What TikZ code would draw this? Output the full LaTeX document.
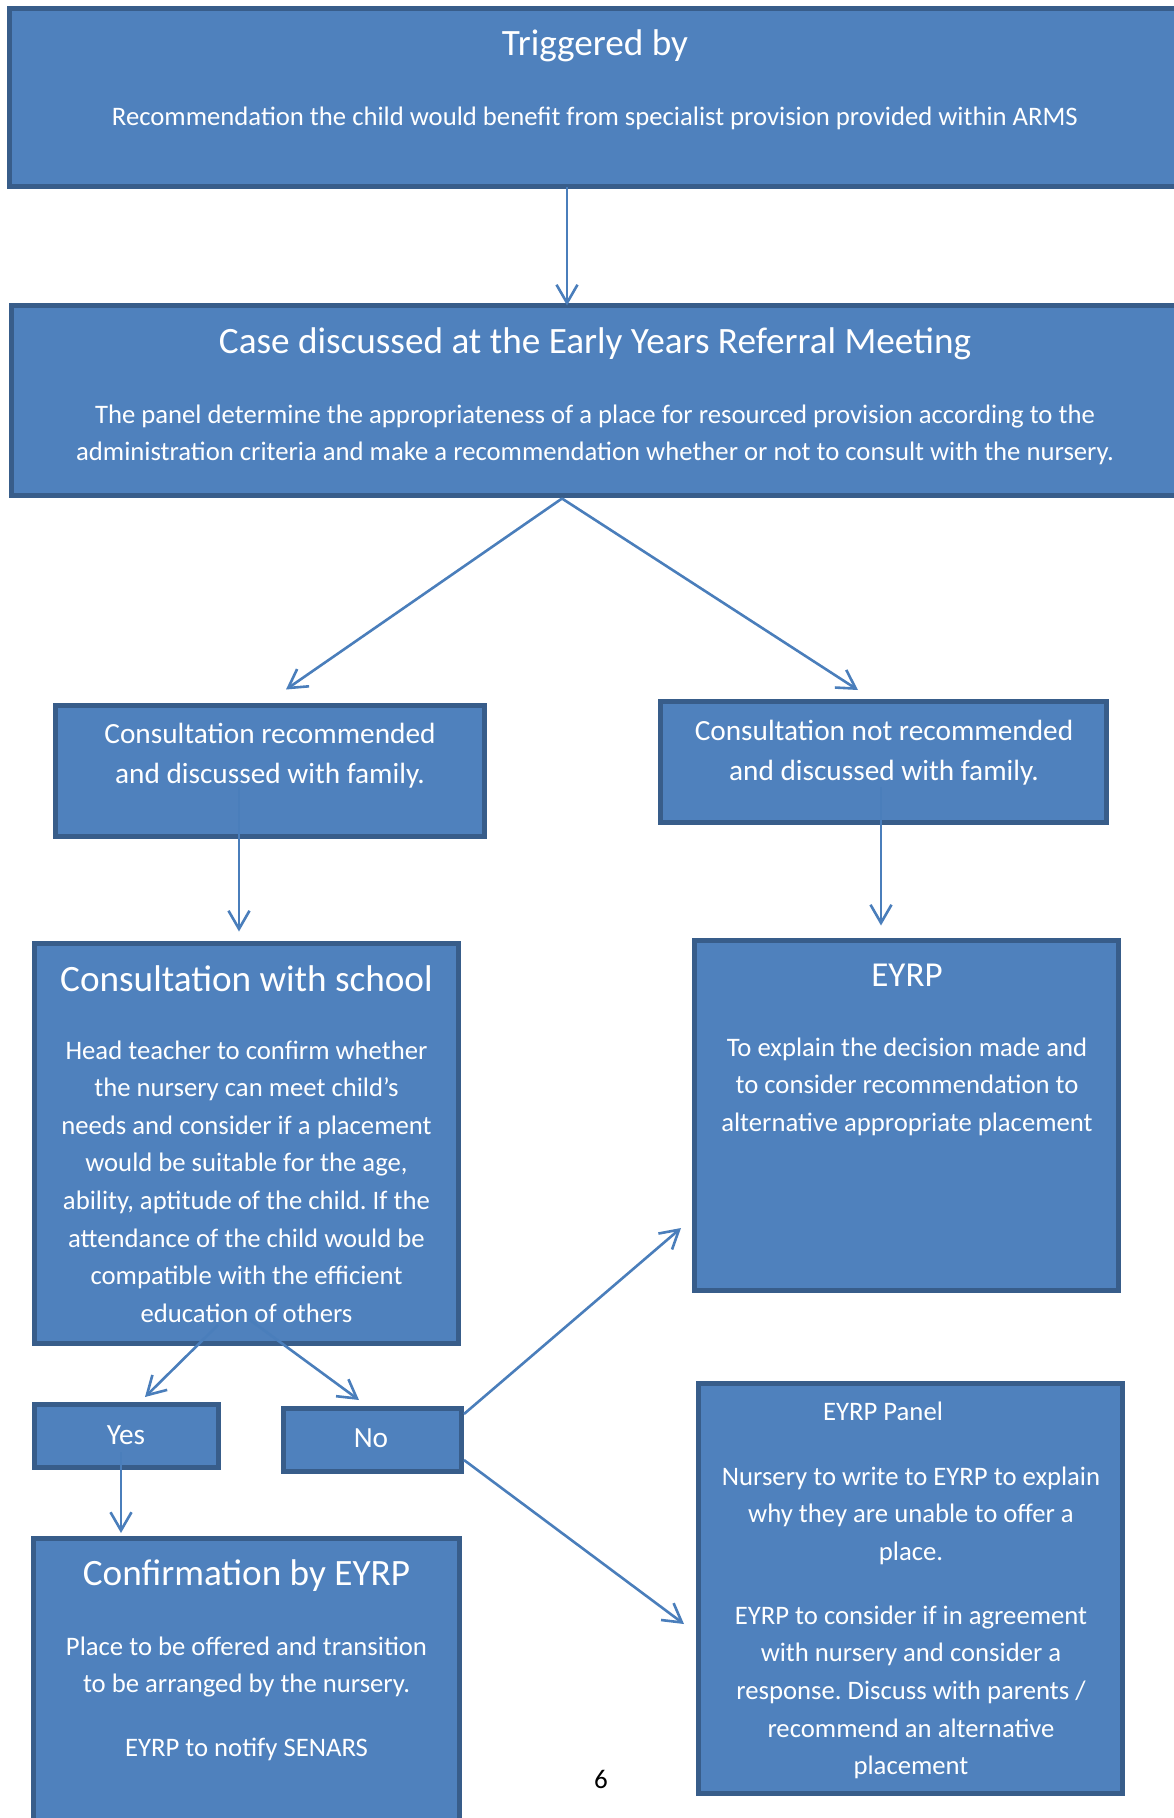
\documentclass[tikz,border=0pt]{standalone}
\usepackage{fontspec}
\setmainfont{Carlito}
\usetikzlibrary{arrows.meta}
\definecolor{boxfill}{RGB}{79,129,189}
\definecolor{boxline}{RGB}{56,93,138}
\definecolor{arrowblue}{RGB}{74,126,187}
\frenchspacing

\begin{document}
\begin{tikzpicture}[x=1pt, y=-1pt,
    box/.style={draw=boxline, fill=boxfill, line width=5pt, inner sep=0pt, outer sep=0pt, anchor=north west},
    headtext/.style={text=white, inner sep=0pt, anchor=base, font=\fontsize{37.2}{44}\selectfont},
    bodytext/.style={text=white, inner sep=0pt, anchor=base, align=center, font=\fontsize{26.7}{37.6}\selectfont},
    choicetext/.style={bodytext, font=\fontsize{29.3}{40.5}\selectfont},
    flow/.style={draw=arrowblue, line width=2.6pt, -{Straight Barb[angle=60:21pt]}}
]
\clip (0,0) rectangle (1174,1818);

% Trigger
\node[box, minimum width=1171pt, minimum height=178pt] (trig) at (9.5,8.5) {};
\node[headtext] (trigH) at (595,55) {Triggered by};
\node[bodytext] (trigB) at (595,125) {Recommendation the child would benefit from specialist provision provided within ARMS};

% Referral meeting (multi-line texts sit on their last baseline)
\node[box, minimum width=1169pt, minimum height=190pt] (meet) at (11.5,305.5) {};
\node[headtext] (meetH) at (595,353) {Case discussed at the Early Years Referral Meeting};
\node[bodytext] (meetB) at (595,460.6) {The panel determine the appropriateness of a place for resourced provision according to the\\administration criteria and make a recommendation whether or not to consult with the nursery.};

% Outcome of the meeting
\node[box, minimum width=429pt, minimum height=131pt] (rec) at (55.5,705.5) {};
\node[choicetext] (recT) at (270,783.5) {Consultation recommended\\and discussed with family.};
\node[box, minimum width=446pt, minimum height=121pt] (notrec) at (660.5,701.5) {};
\node[choicetext] (notrecT) at (884,780.5) {Consultation not recommended\\and discussed with family.};

% School and EYRP
\node[box, minimum width=424pt, minimum height=400pt] (school) at (34.5,943.5) {};
\node[headtext] (schoolH) at (246.5,991) {Consultation with school};
\node[bodytext] (schoolB) at (246.5,1322.2) {Head teacher to confirm whether\\the nursery can meet child’s\\needs and consider if a placement\\would be suitable for the age,\\ability, aptitude of the child. If the\\attendance of the child would be\\compatible with the efficient\\education of others};
\node[box, minimum width=424pt, minimum height=350pt] (eyrp) at (694.5,940.5) {};
\node[headtext, font=\fontsize{35}{42}\selectfont] (eyrpH) at (907,986) {EYRP};
\node[bodytext] (eyrpB) at (907,1131.2) {To explain the decision made and\\to consider recommendation to\\alternative appropriate placement};

% Yes / No
\node[box, minimum width=184pt, minimum height=63pt] (yes) at (34.5,1404.5) {};
\node[choicetext] (yesT) at (126,1444) {Yes};
\node[box, minimum width=178pt, minimum height=63pt] (no) at (283.5,1408.5) {};
\node[choicetext] (noT) at (371,1447) {No};

% Final steps
\node[box, minimum width=426pt, minimum height=300pt] (confirm) at (33.5,1538.5) {};
\node[headtext] (confirmH) at (246.5,1585) {Confirmation by EYRP};
\node[bodytext] (confirmB) at (246.5,1756.7) {Place to be offered and transition\\to be arranged by the nursery.\\[26.5pt]EYRP to notify SENARS};
\node[box, minimum width=424pt, minimum height=410pt] (panel) at (698.5,1383.5) {};
\node[bodytext] (panelH) at (883,1420) {EYRP Panel};
\node[bodytext] (panelB) at (911,1774.7) {Nursery to write to EYRP to explain\\why they are unable to offer a\\place.\\[26.5pt]EYRP to consider if in agreement\\with nursery and consider a\\response. Discuss with parents /\\recommend an alternative\\placement};

% Page number
\node[inner sep=0pt, anchor=base, font=\fontsize{27}{32}\selectfont] (page) at (601,1788) {6};

% Arrows
\draw[flow] ([xshift=-28pt]trig.south) -- ([xshift=-28pt]trig.south |- meet.north);
\draw[flow] ([xshift=-34pt,yshift=-3pt]meet.south) -- ([xshift=16pt,yshift=16pt]rec.north);
\draw[flow] ([xshift=-34pt,yshift=-3pt]meet.south) -- ([xshift=-25.5pt,yshift=11.5pt]notrec.north);
\draw[flow] ([xshift=-31pt,yshift=-16pt]rec.center) -- ([xshift=-7.5pt,yshift=12pt]school.north);
\draw[flow] ([xshift=-2.5pt,yshift=-25pt]notrec.center) -- ([xshift=-25.5pt,yshift=15pt]eyrp.north);
\draw[flow] ([xshift=-28.5pt,yshift=18.5pt]school.south) -- ([xshift=18.5pt,yshift=7.5pt]yes.north);
\draw[flow] ([xshift=3.5pt,yshift=23.5pt]school.south) -- ([xshift=-13.5pt,yshift=8.5pt]no.north);
\draw[flow] ([xshift=-5.5pt,yshift=-16pt]yes.center) -- ([xshift=-125.5pt,yshift=5.5pt]confirm.north);
\draw[flow] ([xshift=2.5pt,yshift=-5.5pt]no.north east) -- ([xshift=-13.5pt,yshift=62.5pt]eyrp.south west);
\draw[flow] ([xshift=2.5pt,yshift=11.5pt]no.south east) -- ([xshift=-14.5pt,yshift=-35.5pt]panel.west);

\end{tikzpicture}
\end{document}
